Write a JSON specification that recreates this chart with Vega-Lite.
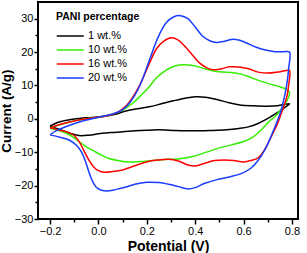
{
"$schema": "https://vega.github.io/schema/vega-lite/v6.json",
"width": 260, "height": 217,
"autosize": "none",
"padding": {"left": 38, "top": 2, "right": 9, "bottom": 34},
"config": {"view": {"stroke": "black", "strokeWidth": 2}, "font": "Liberation Sans"},
"data": {"values": [
{"s":"1 wt.%","k":0,"v":-0.2,"i":-2.2},{"s":"1 wt.%","k":1,"v":-0.17,"i":-1.1},{"s":"1 wt.%","k":2,"v":-0.13,"i":-0.4},{"s":"1 wt.%","k":3,"v":-0.08,"i":0.1},{"s":"1 wt.%","k":4,"v":-0.03,"i":0.4},{"s":"1 wt.%","k":5,"v":0.02,"i":0.7},{"s":"1 wt.%","k":6,"v":0.07,"i":1.4},{"s":"1 wt.%","k":7,"v":0.11,"i":2.3},{"s":"1 wt.%","k":8,"v":0.16,"i":3.0},{"s":"1 wt.%","k":9,"v":0.21,"i":3.6},{"s":"1 wt.%","k":10,"v":0.26,"i":4.5},{"s":"1 wt.%","k":11,"v":0.31,"i":5.4},{"s":"1 wt.%","k":12,"v":0.36,"i":6.2},{"s":"1 wt.%","k":13,"v":0.40,"i":6.6},{"s":"1 wt.%","k":14,"v":0.44,"i":6.5},{"s":"1 wt.%","k":15,"v":0.49,"i":5.8},{"s":"1 wt.%","k":16,"v":0.54,"i":4.8},{"s":"1 wt.%","k":17,"v":0.59,"i":4.1},{"s":"1 wt.%","k":18,"v":0.64,"i":3.9},{"s":"1 wt.%","k":19,"v":0.69,"i":3.8},{"s":"1 wt.%","k":20,"v":0.74,"i":3.9},{"s":"1 wt.%","k":21,"v":0.79,"i":4.5},{"s":"1 wt.%","k":22,"v":0.77,"i":3.4},{"s":"1 wt.%","k":23,"v":0.745,"i":2.1},{"s":"1 wt.%","k":24,"v":0.72,"i":1.0},{"s":"1 wt.%","k":25,"v":0.69,"i":-0.3},{"s":"1 wt.%","k":26,"v":0.66,"i":-1.4},{"s":"1 wt.%","k":27,"v":0.62,"i":-2.4},{"s":"1 wt.%","k":28,"v":0.58,"i":-2.9},{"s":"1 wt.%","k":29,"v":0.53,"i":-3.3},{"s":"1 wt.%","k":30,"v":0.46,"i":-3.5},{"s":"1 wt.%","k":31,"v":0.39,"i":-3.6},{"s":"1 wt.%","k":32,"v":0.32,"i":-3.5},{"s":"1 wt.%","k":33,"v":0.25,"i":-3.3},{"s":"1 wt.%","k":34,"v":0.2,"i":-3.4},{"s":"1 wt.%","k":35,"v":0.15,"i":-3.6},{"s":"1 wt.%","k":36,"v":0.1,"i":-3.9},{"s":"1 wt.%","k":37,"v":0.05,"i":-4.1},{"s":"1 wt.%","k":38,"v":0.0,"i":-4.5},{"s":"1 wt.%","k":39,"v":-0.04,"i":-4.9},{"s":"1 wt.%","k":40,"v":-0.08,"i":-5.0},{"s":"1 wt.%","k":41,"v":-0.12,"i":-4.3},{"s":"1 wt.%","k":42,"v":-0.16,"i":-3.2},{"s":"1 wt.%","k":43,"v":-0.2,"i":-2.2},
{"s":"10 wt.%","k":0,"v":-0.2,"i":-2.8},{"s":"10 wt.%","k":1,"v":-0.16,"i":-1.8},{"s":"10 wt.%","k":2,"v":-0.11,"i":-0.8},{"s":"10 wt.%","k":3,"v":-0.05,"i":0.0},{"s":"10 wt.%","k":4,"v":0.0,"i":0.5},{"s":"10 wt.%","k":5,"v":0.05,"i":1.2},{"s":"10 wt.%","k":6,"v":0.10,"i":2.6},{"s":"10 wt.%","k":7,"v":0.14,"i":4.6},{"s":"10 wt.%","k":8,"v":0.17,"i":6.6},{"s":"10 wt.%","k":9,"v":0.21,"i":9.6},{"s":"10 wt.%","k":10,"v":0.24,"i":12.3},{"s":"10 wt.%","k":11,"v":0.28,"i":14.6},{"s":"10 wt.%","k":12,"v":0.31,"i":15.7},{"s":"10 wt.%","k":13,"v":0.35,"i":16.2},{"s":"10 wt.%","k":14,"v":0.39,"i":16.0},{"s":"10 wt.%","k":15,"v":0.43,"i":15.2},{"s":"10 wt.%","k":16,"v":0.47,"i":14.4},{"s":"10 wt.%","k":17,"v":0.51,"i":14.0},{"s":"10 wt.%","k":18,"v":0.55,"i":13.9},{"s":"10 wt.%","k":19,"v":0.59,"i":13.4},{"s":"10 wt.%","k":20,"v":0.63,"i":12.4},{"s":"10 wt.%","k":21,"v":0.67,"i":11.3},{"s":"10 wt.%","k":22,"v":0.71,"i":10.4},{"s":"10 wt.%","k":23,"v":0.75,"i":9.6},{"s":"10 wt.%","k":24,"v":0.775,"i":8.9},{"s":"10 wt.%","k":25,"v":0.79,"i":7.9},{"s":"10 wt.%","k":26,"v":0.78,"i":5.5},{"s":"10 wt.%","k":27,"v":0.765,"i":3.8},{"s":"10 wt.%","k":28,"v":0.75,"i":2.4},{"s":"10 wt.%","k":29,"v":0.73,"i":0.7},{"s":"10 wt.%","k":30,"v":0.71,"i":-0.5},{"s":"10 wt.%","k":31,"v":0.69,"i":-2.0},{"s":"10 wt.%","k":32,"v":0.67,"i":-3.5},{"s":"10 wt.%","k":33,"v":0.64,"i":-5.4},{"s":"10 wt.%","k":34,"v":0.60,"i":-6.8},{"s":"10 wt.%","k":35,"v":0.55,"i":-7.8},{"s":"10 wt.%","k":36,"v":0.50,"i":-8.7},{"s":"10 wt.%","k":37,"v":0.45,"i":-9.9},{"s":"10 wt.%","k":38,"v":0.39,"i":-11.3},{"s":"10 wt.%","k":39,"v":0.33,"i":-12.0},{"s":"10 wt.%","k":40,"v":0.27,"i":-12.2},{"s":"10 wt.%","k":41,"v":0.22,"i":-12.5},{"s":"10 wt.%","k":42,"v":0.17,"i":-12.8},{"s":"10 wt.%","k":43,"v":0.12,"i":-12.9},{"s":"10 wt.%","k":44,"v":0.08,"i":-12.5},{"s":"10 wt.%","k":45,"v":0.04,"i":-11.8},{"s":"10 wt.%","k":46,"v":0.01,"i":-10.8},{"s":"10 wt.%","k":47,"v":-0.02,"i":-9.6},{"s":"10 wt.%","k":48,"v":-0.05,"i":-8.4},{"s":"10 wt.%","k":49,"v":-0.08,"i":-6.8},{"s":"10 wt.%","k":50,"v":-0.10,"i":-5.7},{"s":"10 wt.%","k":51,"v":-0.13,"i":-4.4},{"s":"10 wt.%","k":52,"v":-0.16,"i":-3.6},{"s":"10 wt.%","k":53,"v":-0.2,"i":-2.8},
{"s":"16 wt.%","k":0,"v":-0.2,"i":-2.7},{"s":"16 wt.%","k":1,"v":-0.16,"i":-1.7},{"s":"16 wt.%","k":2,"v":-0.11,"i":-0.8},{"s":"16 wt.%","k":3,"v":-0.05,"i":0.0},{"s":"16 wt.%","k":4,"v":0.0,"i":0.5},{"s":"16 wt.%","k":5,"v":0.04,"i":1.0},{"s":"16 wt.%","k":6,"v":0.08,"i":2.0},{"s":"16 wt.%","k":7,"v":0.11,"i":3.6},{"s":"16 wt.%","k":8,"v":0.14,"i":6.3},{"s":"16 wt.%","k":9,"v":0.17,"i":10.0},{"s":"16 wt.%","k":10,"v":0.21,"i":16.5},{"s":"16 wt.%","k":11,"v":0.24,"i":21.0},{"s":"16 wt.%","k":12,"v":0.27,"i":23.3},{"s":"16 wt.%","k":13,"v":0.30,"i":24.3},{"s":"16 wt.%","k":14,"v":0.33,"i":23.6},{"s":"16 wt.%","k":15,"v":0.36,"i":21.5},{"s":"16 wt.%","k":16,"v":0.39,"i":19.0},{"s":"16 wt.%","k":17,"v":0.42,"i":16.6},{"s":"16 wt.%","k":18,"v":0.45,"i":15.2},{"s":"16 wt.%","k":19,"v":0.48,"i":14.7},{"s":"16 wt.%","k":20,"v":0.51,"i":15.0},{"s":"16 wt.%","k":21,"v":0.54,"i":15.6},{"s":"16 wt.%","k":22,"v":0.58,"i":15.5},{"s":"16 wt.%","k":23,"v":0.62,"i":15.0},{"s":"16 wt.%","k":24,"v":0.66,"i":14.0},{"s":"16 wt.%","k":25,"v":0.70,"i":13.7},{"s":"16 wt.%","k":26,"v":0.74,"i":14.0},{"s":"16 wt.%","k":27,"v":0.77,"i":14.4},{"s":"16 wt.%","k":28,"v":0.79,"i":14.5},{"s":"16 wt.%","k":29,"v":0.787,"i":10.5},{"s":"16 wt.%","k":30,"v":0.78,"i":7.0},{"s":"16 wt.%","k":31,"v":0.77,"i":4.5},{"s":"16 wt.%","k":32,"v":0.755,"i":1.5},{"s":"16 wt.%","k":33,"v":0.74,"i":-1.5},{"s":"16 wt.%","k":34,"v":0.72,"i":-4.5},{"s":"16 wt.%","k":35,"v":0.70,"i":-7.5},{"s":"16 wt.%","k":36,"v":0.68,"i":-10.0},{"s":"16 wt.%","k":37,"v":0.66,"i":-11.7},{"s":"16 wt.%","k":38,"v":0.63,"i":-12.5},{"s":"16 wt.%","k":39,"v":0.60,"i":-12.9},{"s":"16 wt.%","k":40,"v":0.56,"i":-12.5},{"s":"16 wt.%","k":41,"v":0.52,"i":-12.3},{"s":"16 wt.%","k":42,"v":0.48,"i":-12.5},{"s":"16 wt.%","k":43,"v":0.44,"i":-13.3},{"s":"16 wt.%","k":44,"v":0.40,"i":-14.1},{"s":"16 wt.%","k":45,"v":0.37,"i":-13.8},{"s":"16 wt.%","k":46,"v":0.33,"i":-12.6},{"s":"16 wt.%","k":47,"v":0.29,"i":-12.1},{"s":"16 wt.%","k":48,"v":0.25,"i":-12.3},{"s":"16 wt.%","k":49,"v":0.21,"i":-12.7},{"s":"16 wt.%","k":50,"v":0.16,"i":-13.8},{"s":"16 wt.%","k":51,"v":0.10,"i":-15.3},{"s":"16 wt.%","k":52,"v":0.06,"i":-15.8},{"s":"16 wt.%","k":53,"v":0.025,"i":-16.0},{"s":"16 wt.%","k":54,"v":0.0,"i":-15.5},{"s":"16 wt.%","k":55,"v":-0.02,"i":-14.4},{"s":"16 wt.%","k":56,"v":-0.04,"i":-12.3},{"s":"16 wt.%","k":57,"v":-0.06,"i":-9.5},{"s":"16 wt.%","k":58,"v":-0.08,"i":-6.8},{"s":"16 wt.%","k":59,"v":-0.10,"i":-5.0},{"s":"16 wt.%","k":60,"v":-0.12,"i":-4.2},{"s":"16 wt.%","k":61,"v":-0.16,"i":-3.4},{"s":"16 wt.%","k":62,"v":-0.2,"i":-2.7},
{"s":"20 wt.%","k":0,"v":-0.2,"i":-4.8},{"s":"20 wt.%","k":1,"v":-0.17,"i":-3.4},{"s":"20 wt.%","k":2,"v":-0.13,"i":-2.2},{"s":"20 wt.%","k":3,"v":-0.086,"i":-1.1},{"s":"20 wt.%","k":4,"v":-0.04,"i":-0.2},{"s":"20 wt.%","k":5,"v":0.0,"i":0.5},{"s":"20 wt.%","k":6,"v":0.05,"i":1.3},{"s":"20 wt.%","k":7,"v":0.09,"i":2.3},{"s":"20 wt.%","k":8,"v":0.12,"i":4.0},{"s":"20 wt.%","k":9,"v":0.15,"i":7.0},{"s":"20 wt.%","k":10,"v":0.18,"i":11.5},{"s":"20 wt.%","k":11,"v":0.21,"i":17.5},{"s":"20 wt.%","k":12,"v":0.25,"i":25.0},{"s":"20 wt.%","k":13,"v":0.28,"i":28.8},{"s":"20 wt.%","k":14,"v":0.31,"i":30.5},{"s":"20 wt.%","k":15,"v":0.34,"i":30.9},{"s":"20 wt.%","k":16,"v":0.37,"i":30.0},{"s":"20 wt.%","k":17,"v":0.40,"i":27.5},{"s":"20 wt.%","k":18,"v":0.43,"i":24.8},{"s":"20 wt.%","k":19,"v":0.46,"i":23.4},{"s":"20 wt.%","k":20,"v":0.49,"i":22.9},{"s":"20 wt.%","k":21,"v":0.52,"i":23.2},{"s":"20 wt.%","k":22,"v":0.55,"i":23.8},{"s":"20 wt.%","k":23,"v":0.58,"i":23.6},{"s":"20 wt.%","k":24,"v":0.61,"i":22.8},{"s":"20 wt.%","k":25,"v":0.65,"i":21.5},{"s":"20 wt.%","k":26,"v":0.69,"i":20.6},{"s":"20 wt.%","k":27,"v":0.73,"i":20.1},{"s":"20 wt.%","k":28,"v":0.765,"i":20.1},{"s":"20 wt.%","k":29,"v":0.79,"i":20.0},{"s":"20 wt.%","k":30,"v":0.787,"i":15.5},{"s":"20 wt.%","k":31,"v":0.78,"i":11.0},{"s":"20 wt.%","k":32,"v":0.77,"i":7.0},{"s":"20 wt.%","k":33,"v":0.755,"i":2.5},{"s":"20 wt.%","k":34,"v":0.735,"i":-1.5},{"s":"20 wt.%","k":35,"v":0.715,"i":-5.0},{"s":"20 wt.%","k":36,"v":0.69,"i":-9.0},{"s":"20 wt.%","k":37,"v":0.66,"i":-12.5},{"s":"20 wt.%","k":38,"v":0.63,"i":-14.8},{"s":"20 wt.%","k":39,"v":0.59,"i":-16.4},{"s":"20 wt.%","k":40,"v":0.54,"i":-17.4},{"s":"20 wt.%","k":41,"v":0.49,"i":-18.2},{"s":"20 wt.%","k":42,"v":0.44,"i":-19.3},{"s":"20 wt.%","k":43,"v":0.40,"i":-20.6},{"s":"20 wt.%","k":44,"v":0.37,"i":-21.0},{"s":"20 wt.%","k":45,"v":0.33,"i":-20.3},{"s":"20 wt.%","k":46,"v":0.29,"i":-19.6},{"s":"20 wt.%","k":47,"v":0.25,"i":-19.1},{"s":"20 wt.%","k":48,"v":0.20,"i":-19.0},{"s":"20 wt.%","k":49,"v":0.15,"i":-19.6},{"s":"20 wt.%","k":50,"v":0.11,"i":-20.5},{"s":"20 wt.%","k":51,"v":0.07,"i":-21.2},{"s":"20 wt.%","k":52,"v":0.035,"i":-21.6},{"s":"20 wt.%","k":53,"v":0.01,"i":-21.3},{"s":"20 wt.%","k":54,"v":-0.01,"i":-20.4},{"s":"20 wt.%","k":55,"v":-0.025,"i":-18.6},{"s":"20 wt.%","k":56,"v":-0.04,"i":-15.8},{"s":"20 wt.%","k":57,"v":-0.055,"i":-12.5},{"s":"20 wt.%","k":58,"v":-0.07,"i":-10.0},{"s":"20 wt.%","k":59,"v":-0.09,"i":-8.0},{"s":"20 wt.%","k":60,"v":-0.12,"i":-6.4},{"s":"20 wt.%","k":61,"v":-0.16,"i":-5.5},{"s":"20 wt.%","k":62,"v":-0.2,"i":-4.8}
]},
"layer": [
{"mark": {"type": "line", "interpolate": "catmull-rom", "strokeWidth": 1.5, "clip": true},
 "encoding": {
  "x": {"field": "v", "type": "quantitative", "scale": {"domain": [-0.25, 0.825], "nice": false, "zero": false},
    "axis": {"orient": "bottom", "values": [-0.2, 0, 0.2, 0.4, 0.6, 0.8], "format": ".1f", "grid": false, "domain": false, "tickColor": "black", "tickWidth": 1.5, "tickSize": 5, "labelFontSize": 11, "labelColor": "black", "labelPadding": 1, "title": "Potential (V)", "titleFontSize": 14, "titleFontWeight": "bold", "titleColor": "black", "titlePadding": 3}},
  "y": {"field": "i", "type": "quantitative", "scale": {"domain": [-30, 35], "nice": false, "zero": false},
    "axis": {"orient": "left", "values": [-30, -20, -10, 0, 10, 20, 30], "grid": false, "domain": false, "tickColor": "black", "tickWidth": 1.5, "tickSize": 4, "labelFontSize": 11, "labelColor": "black", "labelPadding": 1, "title": "Current (A/g)", "titleFontSize": 13.5, "titleFontWeight": "bold", "titleColor": "black", "titlePadding": 1}},
  "color": {"field": "s", "type": "nominal", "scale": {"domain": ["1 wt.%", "10 wt.%", "16 wt.%", "20 wt.%"], "range": ["#000000", "#33ee00", "#ff0000", "#1a3dff"]},
    "legend": {"orient": "none", "legendX": 18, "legendY": 10, "title": "PANI percentage", "titleFontSize": 10.5, "titleFontWeight": "bold", "titleColor": "black", "titlePadding": 6, "labelFontSize": 11, "labelColor": "black", "symbolType": "M-1,0H3", "symbolStrokeWidth": 1.5, "symbolFillColor": "transparent", "symbolSize": 182, "labelOffset": 17, "rowPadding": 1, "padding": 0, "labelExpr": "datum.label == '1 wt.%' ? '\u20071 wt.%' : datum.label"}},
  "order": {"field": "k", "type": "quantitative"}
 }},
{"mark": {"type": "line", "opacity": 0},
 "encoding": {
  "x": {"field": "v", "type": "quantitative",
    "axis": {"orient": "bottom", "values": [-0.1, 0.1, 0.3, 0.5, 0.7], "labels": false, "grid": false, "domain": false, "tickColor": "black", "tickWidth": 1.5, "tickSize": 3, "title": null}},
  "y": {"field": "i", "type": "quantitative",
    "axis": {"orient": "left", "values": [-25, -15, -5, 5, 15, 25], "labels": false, "grid": false, "domain": false, "tickColor": "black", "tickWidth": 1.5, "tickSize": 3, "title": null}},
  "detail": {"field": "s", "type": "nominal"},
  "order": {"field": "k", "type": "quantitative"}
 }}
],
"resolve": {"axis": {"x": "independent", "y": "independent"}}
}
